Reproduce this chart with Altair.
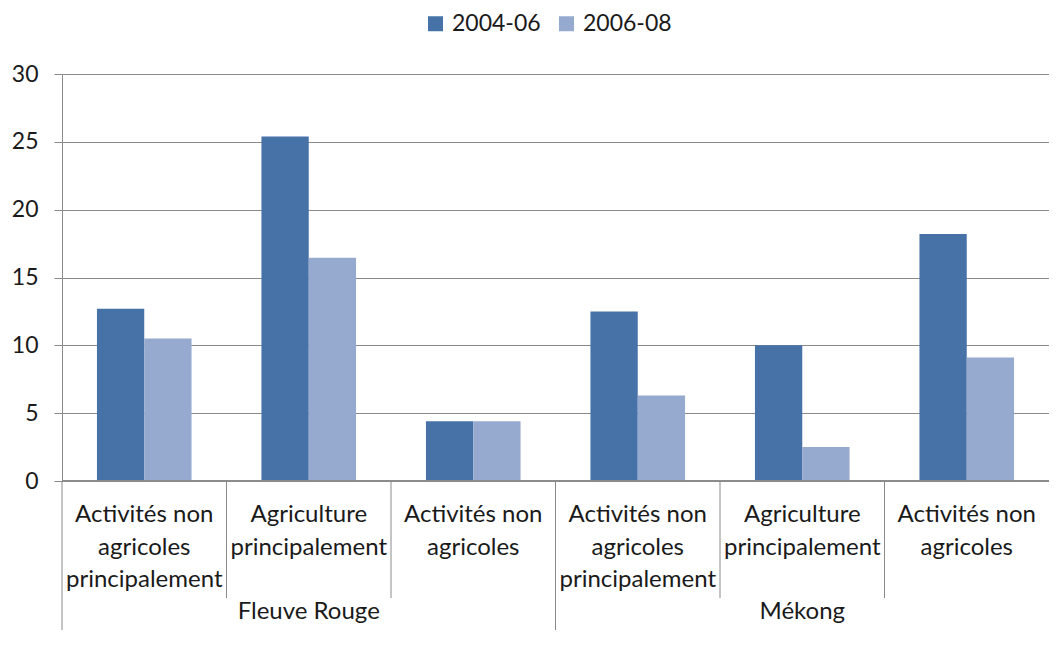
import altair as alt
import pandas as pd

# ---- data ----
groups = ["Fleuve Rouge", "Fleuve Rouge", "Fleuve Rouge", "Mékong", "Mékong", "Mékong"]
categories = [
    "Activités non\nagricoles\nprincipalement",
    "Agriculture\nprincipalement",
    "Activités non\nagricoles",
    "Activités non\nagricoles\nprincipalement",
    "Agriculture\nprincipalement",
    "Activités non\nagricoles",
]
series = ["2004-06", "2006-08"]
values_2004_06 = [12.7, 25.4, 4.4, 12.5, 10.0, 18.2]
values_2006_08 = [10.5, 16.45, 4.4, 6.3, 2.5, 9.1]
y_ticks = [0, 5, 10, 15, 20, 25, 30]

colors = ["#4672A7", "#96AACF"]
grid_color = "#8a8a8a"
text_color = "#1a1a1a"
FONT = "Lato"

W, H = 987, 407
BOTTOM_PAD = 149
TOP_PAD = 66

cids = [str(i) for i in range(len(categories))]

rows = []
for i, cid in enumerate(cids):
    rows.append({"cid": cid, "series": series[0], "value": values_2004_06[i]})
    rows.append({"cid": cid, "series": series[1], "value": values_2006_08[i]})
bars_df = pd.DataFrame(rows)

labels_df = pd.DataFrame({"cid": cids, "label": categories, "group": groups})

# group label positioned at the middle category of each group
group_names = []
group_mid = []
group_start = []
for i, g in enumerate(groups):
    if g not in group_names:
        group_names.append(g)
        group_start.append(cids[i])
for g in group_names:
    idx = [i for i, gg in enumerate(groups) if gg == g]
    group_mid.append(cids[idx[len(idx) // 2]])
group_df = pd.DataFrame({"cid": group_mid, "group": group_names})
group_start_df = pd.DataFrame({"cid": group_start})
inner_df = pd.DataFrame({"cid": [c for c in cids if c not in group_start]})

x_scale = alt.Scale(domain=cids, paddingInner=0, paddingOuter=0)

bars = alt.Chart(bars_df).mark_bar().encode(
    x=alt.X("cid:N", scale=x_scale, axis=None),
    xOffset=alt.XOffset("series:N", scale=alt.Scale(domain=series, paddingInner=0, paddingOuter=0.739)),
    y=alt.Y(
        "value:Q",
        scale=alt.Scale(domain=[0, 30], nice=False),
        axis=alt.Axis(
            values=y_ticks,
            title=None,
            grid=True,
            gridColor=grid_color,
            gridWidth=1,
            domain=True,
            domainColor=grid_color,
            tickColor=grid_color,
            tickSize=8,
            labelFont=FONT,
            labelFontSize=23,
            labelColor=text_color,
            labelPadding=16,
        ),
    ),
    color=alt.Color(
        "series:N",
        scale=alt.Scale(domain=series, range=colors),
        legend=alt.Legend(
            title=None,
            orient="none",
            direction="horizontal",
            legendX=362,
            legendY=-62,
            symbolType="square",
            symbolSize=225,
            symbolStrokeWidth=0,
            labelFont=FONT,
            labelFontSize=23,
            labelColor=text_color,
            labelOffset=5,
            columnPadding=14,
        ),
    ),
)

x_domain_line = alt.Chart(labels_df).mark_rule(color=grid_color, strokeWidth=1).encode(
    x=alt.value(0), x2=alt.value(W), y=alt.value(H)
)

inner_rules = alt.Chart(inner_df).mark_rule(color=grid_color, strokeWidth=1).encode(
    x=alt.X("cid:N", scale=x_scale, axis=None, bandPosition=0),
    y=alt.value(H),
    y2=alt.value(H + 117),
)

group_rules = alt.Chart(group_start_df).mark_rule(color=grid_color, strokeWidth=1).encode(
    x=alt.X("cid:N", scale=x_scale, axis=None, bandPosition=0),
    y=alt.value(H),
    y2=alt.value(H + BOTTOM_PAD),
)

cat_labels = alt.Chart(labels_df).mark_text(
    font=FONT, fontSize=24, lineBreak="\n", lineHeight=32.5,
    baseline="top", align="center", color=text_color,
).encode(
    x=alt.X("cid:N", scale=x_scale, axis=None, bandPosition=0.5),
    y=alt.value(H + 22),
    text="label:N",
)

group_labels = alt.Chart(group_df).mark_text(
    font=FONT, fontSize=24, baseline="middle", align="center", color=text_color,
).encode(
    x=alt.X("cid:N", scale=x_scale, axis=None, bandPosition=0.5),
    y=alt.value(H + 131),
    text="group:N",
)

chart = alt.layer(
    bars, x_domain_line, inner_rules, group_rules, cat_labels, group_labels
).properties(
    width=W,
    height=H,
    autosize="none",
    padding={"left": 54, "top": TOP_PAD, "right": 0, "bottom": BOTTOM_PAD},
).configure_view(stroke=None).configure(background="white")

chart.save("out.html", embed_options={"renderer": "svg", "actions": False})
